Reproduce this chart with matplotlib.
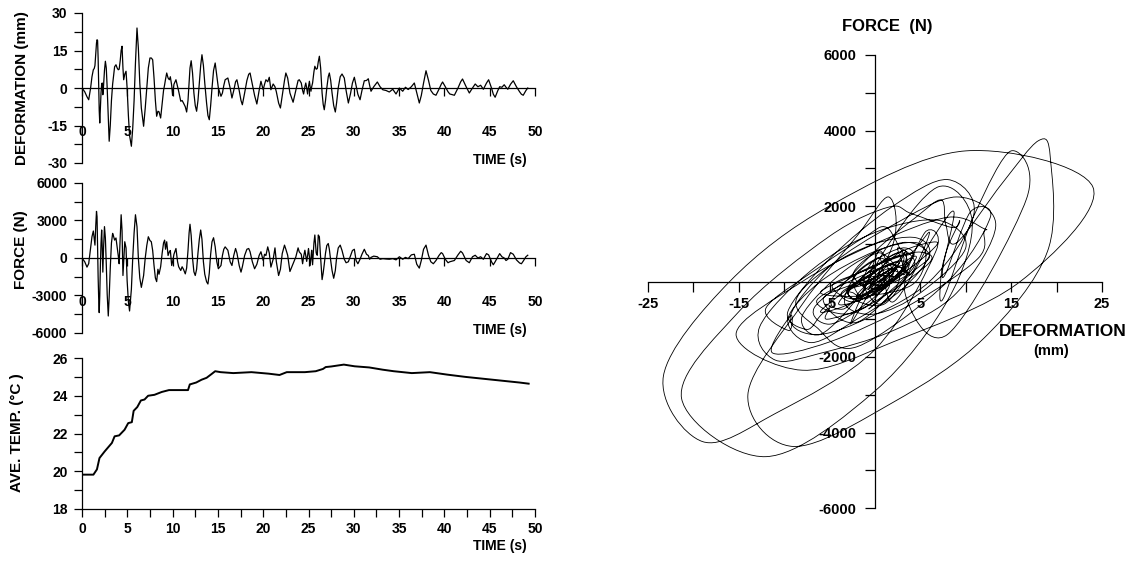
import numpy as np
import matplotlib
matplotlib.use("Agg")
import matplotlib.pyplot as plt
from matplotlib.path import Path
from matplotlib.patches import PathPatch
from matplotlib.ticker import MultipleLocator

plt.rcParams["font.family"] = ["Liberation Sans", "DejaVu Sans"]
plt.rcParams["font.weight"] = "bold"
plt.rcParams["axes.unicode_minus"] = False

# ---- shaking-table record: common time base for deformation and force ----
time_s = [
    0.00, 0.30, 0.55, 0.74, 0.95, 1.10, 1.25, 1.35, 1.43, 1.52,
    1.60, 1.66, 1.72, 1.78, 1.84, 1.90, 1.96, 2.03, 2.10, 2.17,
    2.23, 2.30, 2.38, 2.48, 2.58, 2.68, 2.78, 2.90, 3.00, 3.12,
    3.25, 3.38, 3.46, 3.60, 3.75, 3.88, 4.00, 4.10, 4.22, 4.32,
    4.42, 4.52, 4.60, 4.72, 4.86, 4.98, 5.12, 5.25, 5.45, 5.60,
    5.75, 5.90, 6.07, 6.22, 6.38, 6.55, 6.80, 6.98, 7.15, 7.32,
    7.50, 7.65, 7.80, 7.95, 8.10, 8.24, 8.38, 8.50, 8.68, 8.85,
    9.00, 9.12, 9.22, 9.35, 9.50, 9.64, 9.75, 9.90, 10.00, 10.15,
    10.37, 10.55, 10.67, 10.90, 11.05, 11.20, 11.40, 11.55, 11.70, 11.82,
    11.92, 12.05, 12.20, 12.35, 12.50, 12.65, 12.80, 12.95, 13.10, 13.24,
    13.40, 13.55, 13.75, 13.90, 14.05, 14.20, 14.35, 14.52, 14.70, 14.88,
    15.05, 15.34, 15.50, 15.65, 15.80, 16.10, 16.35, 16.55, 16.75, 16.95,
    17.10, 17.35, 17.55, 17.70, 17.95, 18.20, 18.40, 18.55, 18.80, 19.05,
    19.30, 19.55, 19.75, 20.00, 20.15, 20.30, 20.50, 20.67, 20.85, 21.10,
    21.30, 21.45, 21.70, 21.90, 22.10, 22.35, 22.50, 22.70, 22.95, 23.30,
    23.60, 23.85, 23.98, 24.20, 24.35, 24.46, 24.60, 24.70, 24.80, 24.90,
    25.00, 25.10, 25.18, 25.27, 25.35, 25.45, 25.60, 25.70, 25.85, 25.97,
    26.08, 26.20, 26.34, 26.50, 26.62, 26.74, 26.88, 27.02, 27.18, 27.30,
    27.45, 27.60, 27.78, 27.96, 28.10, 28.28, 28.50, 28.70, 28.95, 29.15,
    29.40, 29.65, 29.85, 30.06, 30.25, 30.45, 30.69, 30.90, 31.16, 31.40,
    31.60, 31.75, 31.90, 32.20, 32.60, 32.90, 33.20, 33.56, 33.92, 34.30,
    34.66, 35.03, 35.40, 35.70, 36.00, 36.35, 36.68, 36.95, 37.23, 37.45,
    37.70, 37.97, 38.25, 38.50, 38.78, 39.07, 39.40, 39.65, 39.80, 40.10,
    40.40, 40.60, 41.10, 41.50, 41.80, 42.00, 42.40, 42.75, 43.10, 43.40,
    43.70, 44.00, 44.30, 44.65, 44.88, 45.20, 45.40, 45.60, 45.90, 46.10,
    46.35, 46.60, 46.80, 47.00, 47.30, 47.60, 47.95, 48.30, 48.50, 48.70,
    49.00, 49.20,
]

deformation_mm = [
    0.0, -1.5, -3.5, -4.7, 0.0, 4.5, 7.3, 7.8, 9.0, 14.0,
    18.0, 19.3, 19.0, 12.0, 2.0, -9.0, -14.0, -8.0, -2.0, 1.5,
    2.0, -2.7, 1.0, 7.0, 10.7, 8.0, 0.0, -12.0, -21.3, -15.0,
    -5.0, 1.5, 4.0, 8.5, 9.3, 8.0, 7.3, 7.5, 11.0, 15.0,
    16.7, 8.0, 3.3, 5.5, 6.7, 0.0, -11.0, -19.0, -23.3, -16.0,
    -5.0, 10.0, 24.0, 16.0, 2.0, -8.0, -15.3, -8.0, 0.0, 8.0,
    12.0, 12.0, 11.3, 4.0, -5.0, -11.3, -9.3, -9.5, -12.0, -6.0,
    -1.0, 1.3, 3.5, 6.0, 4.0, 3.3, 4.5, 1.0, -3.0, 1.5,
    3.3, 0.5, -1.3, -5.3, -5.0, -6.0, -7.5, -9.6, -5.0, 2.0,
    8.0, 10.9, 6.0, -2.0, -7.0, -9.3, -5.0, 2.0, 9.0, 13.3,
    9.0, 2.0, -6.0, -11.0, -12.7, -7.0, 0.0, 7.0, 10.0, 5.0,
    0.0, -3.3, -2.0, 1.0, 3.3, 4.0, 0.0, -4.0, -1.0, 2.5,
    3.3, -1.0, -5.0, -6.7, -2.0, 3.0, 5.5, 6.0, 1.5, -3.0,
    -6.4, -1.0, 2.7, -0.7, 1.5, 3.3, 2.5, 4.3, -0.7, 1.6,
    0.5, -1.5, -6.0, -8.0, -3.0, 3.0, 6.0, 4.0, -2.0, -5.7,
    -1.0, 3.0, 3.3, 2.0, -1.0, -2.4, 0.5, 2.0, 0.0, -2.4,
    0.5, 2.7, 0.5, -1.3, 0.5, 2.0, 6.5, 8.7, 7.5, 7.8,
    10.5, 12.7, 8.0, -2.0, -6.5, -8.7, -5.0, 0.0, 4.5, 6.0,
    3.0, -2.0, -7.0, -9.6, -6.0, 0.0, 4.5, 5.6, 4.0, -1.0,
    -6.0, -2.0, 2.0, 4.3, 1.0, -2.5, -4.7, -1.0, 2.9, 3.0,
    3.7, 1.0, -1.3, 0.5, 2.4, 0.5, -0.7, -1.0, -1.6, -0.5,
    -2.4, 0.0, -1.3, 0.3, -0.6, 0.5, 2.0, -2.0, -6.0, -3.0,
    2.0, 6.9, 3.0, -1.0, -2.4, -2.9, -0.5, 1.5, 2.4, 0.5,
    -1.5, -2.4, -2.9, 0.0, 2.5, 3.6, 0.5, -2.0, 0.0, 1.6,
    0.5, 1.1, -0.5, 2.0, 3.3, 0.0, -2.5, -3.7, -1.0, 0.5,
    0.3, 1.3, 0.3, -0.5, 1.5, 2.9, 0.5, -1.5, -2.5, -2.9,
    -1.0, 0.0,
]

force_n = [
    0, -300, -730, -450, 800, 1700, 2160, 1500, 1030, 2600,
    3730, 3300, 800, -1500, -3200, -4370, -3000, -600, 1200, 2240,
    1000, -1130, 800, 2510, 1600, -500, -2900, -4640, -3100, -800,
    1200, 1970, 1800, 1430, 1600, 900, 200, -460, 1800, 3460,
    2200, -1400, -300, 1300, 800, -1800, -3500, -4240, -2500, 0,
    2000, 3460, 2500, 0, -1600, -2350, -1400, 0, 1000, 1700,
    1400, 1300, 600, -600, -1600, -1890, -900, -1300, -700, 400,
    1200, 1430, 700, 1300, 200, 500, 600, -600, -300, 300,
    760, -300, -700, -1000, -700, -900, -1270, -800, 600, 2000,
    2700, 1800, 0, -1100, -1400, -900, 400, 1500, 2240, 1500,
    -300, -1300, -1900, -2080, -1200, 300, 1300, 1620, 900, -300,
    -860, -600, 200, 700, 890, 620, -300, -600, 200, 760,
    400, -600, -1130, -700, 200, 700, 760, 500, -300, -860,
    -500, 200, 500, -200, 300, 200, 890, 400, -730, -100,
    810, -300, -1400, -900, 350, 1030, 700, 220, -1080, -460,
    80, 810, 490, 300, -460, 100, 620, 200, -270, 200,
    760, 100, -600, 0, 620, -540, 1200, 1840, 400, 220,
    1840, 1700, 0, -1730, -1200, -500, 400, 1000, 1160, 700,
    -200, -1000, -1620, -1000, 0, 800, 1030, 600, -100, -380,
    -300, 200, 600, 700, -200, -460, -100, 300, 700, 300,
    200, -100, 50, 150, 100, -100, -50, -80, -100, -50,
    -150, 100, -100, 50, -50, 250, 300, -500, -810, -200,
    700, 1030, 200, -300, -460, -200, 200, 430, 350, -100,
    -380, -300, -200, 250, 540, 400, -200, -380, 100, 220,
    0, 100, -100, 350, 250, -300, -540, -300, 100, 350,
    100, 0, -200, -100, 430, 300, -150, -400, -460, -250,
    100, 220,
]

# ---- average damper temperature ----
temp_time_s = [
    0.0, 1.26, 1.65, 1.93, 2.5, 3.3, 3.6, 4.1, 4.7, 5.1,
    5.5, 5.7, 6.1, 6.5, 6.9, 7.3, 8.0, 8.8, 9.6, 11.2,
    11.7, 11.9, 12.6, 13.2, 13.75, 14.3, 14.7, 15.3, 16.7, 18.7,
    20.6, 21.8, 22.6, 24.6, 25.8, 26.6, 26.9, 27.5, 28.9, 30.1,
    31.7, 33.2, 34.4, 36.4, 38.4, 40.3, 42.3, 44.3, 46.3, 48.3,
    49.3,
]
temp_c = [
    19.82, 19.82, 20.1, 20.7, 21.05, 21.5, 21.85, 21.9, 22.2, 22.55,
    22.6, 23.2, 23.4, 23.75, 23.8, 24.0, 24.05, 24.2, 24.3, 24.3,
    24.3, 24.6, 24.7, 24.85, 24.95, 25.15, 25.3, 25.25, 25.2, 25.25,
    25.17, 25.1, 25.25, 25.25, 25.3, 25.42, 25.52, 25.55, 25.65, 25.56,
    25.5, 25.38, 25.3, 25.2, 25.25, 25.12, 25.0, 24.9, 24.8, 24.7,
    24.64,
]

# ---- tick values and labels ----
time_ticks = [0, 5, 10, 15, 20, 25, 30, 35, 40, 45, 50]
def_ticks = [-30, -15, 0, 15, 30]
force_ticks = [-6000, -3000, 0, 3000, 6000]
temp_ticks = [18, 20, 22, 24, 26]
hys_def_ticks = [-25, -20, -15, -10, -5, 0, 5, 10, 15, 20, 25]
hys_def_labels = ["-25", "", "-15", "", "-5", "", "5", "", "15", "", "25"]
hys_force_ticks = [-6000, -5000, -4000, -3000, -2000, -1000, 0,
                   1000, 2000, 3000, 4000, 5000, 6000]
hys_force_labels = ["-6000", "", "-4000", "", "-2000", "", "",
                    "", "2000", "", "4000", "", "6000"]

W, H = 1135, 563
fig = plt.figure(figsize=(W / 100, H / 100), dpi=100)


def px_box(x0, y_top, x1, y_bot):
    return [x0 / W, 1 - y_bot / H, (x1 - x0) / W, (y_bot - y_top) / H]


def ftext(x, y, s, **kw):
    fig.text(x / W, 1 - y / H, s, ha="center", va="center",
             fontweight="bold", **kw)


def style_time_axis(ax, ylim, yticks, minor, zero_axis):
    ax.set_xlim(0, 50)
    ax.set_ylim(*ylim)
    for s in ("top", "right"):
        ax.spines[s].set_visible(False)
    for s in ("left", "bottom"):
        ax.spines[s].set_linewidth(0.9)
    ax.set_xticks(time_ticks)
    ax.set_xticklabels([str(v) for v in time_ticks])
    ax.set_yticks(yticks)
    ax.set_yticklabels([str(v) for v in yticks])
    ax.yaxis.set_minor_locator(MultipleLocator(minor))
    ax.tick_params(axis="both", which="both", direction="out", length=6,
                   width=0.9, labelsize=10)
    if zero_axis:
        ax.spines["bottom"].set_position(("data", 0))
        ax.tick_params(axis="x", pad=20.5)
    else:
        ax.xaxis.set_minor_locator(MultipleLocator(2.5))
        ax.tick_params(axis="x", which="both", pad=3.5)
    ax.tick_params(axis="y", which="both", pad=4.5)
    ax.patch.set_visible(False)


def smooth_curve(ax, x, y, lw):
    """Draw a Catmull-Rom style smoothed line through the given points."""
    x = np.asarray(x, float)
    y = np.asarray(y, float)
    xp = np.concatenate(([x[0]], x, [x[-1]]))
    yp = np.concatenate(([y[0]], y, [y[-1]]))
    verts = [(x[0], y[0])]
    codes = [Path.MOVETO]
    for i in range(len(x) - 1):
        c1 = (x[i] + (xp[i + 2] - xp[i]) / 6, y[i] + (yp[i + 2] - yp[i]) / 6)
        c2 = (x[i + 1] - (xp[i + 3] - xp[i + 1]) / 6,
              y[i + 1] - (yp[i + 3] - yp[i + 1]) / 6)
        verts += [c1, c2, (x[i + 1], y[i + 1])]
        codes += [Path.CURVE4] * 3
    ax.add_patch(PathPatch(Path(verts, codes), facecolor="none",
                           edgecolor="black", lw=lw, transform=ax.transData))


# ---- deformation history ----
ax_def = fig.add_axes(px_box(82, 13, 535, 163))
ax_def.plot(time_s, deformation_mm, color="black", lw=0.9)
style_time_axis(ax_def, (-30, 30), def_ticks, 7.5, True)

# ---- force history ----
ax_frc = fig.add_axes(px_box(82, 183, 535, 333))
ax_frc.plot(time_s, force_n, color="black", lw=0.9)
style_time_axis(ax_frc, (-6000, 6000), force_ticks, 1500, True)

# ---- temperature history ----
ax_tmp = fig.add_axes(px_box(82, 358, 535, 509))
ax_tmp.plot(temp_time_s, temp_c, color="black", lw=1.4)
style_time_axis(ax_tmp, (18, 26), temp_ticks, 1, False)

ftext(22, 88, "DEFORMATION (mm)", rotation=90, fontsize=11)
ftext(21, 250, "FORCE (N)", rotation=90, fontsize=11)
ftext(17, 433, "AVE. TEMP. (\u00b0C )", rotation=90, fontsize=11)
for y in (160, 330, 546):
    ftext(500, y, "TIME (s)", fontsize=10)

# ---- force-deformation loops ----
ax_hys = fig.add_axes(px_box(648, 55, 1102, 508))
smooth_curve(ax_hys, deformation_mm, force_n, lw=0.6)
ax_hys.set_xlim(-25, 25)
ax_hys.set_ylim(-6000, 6000)
for s in ("top", "right"):
    ax_hys.spines[s].set_visible(False)
for s in ("left", "bottom"):
    ax_hys.spines[s].set_position(("data", 0))
    ax_hys.spines[s].set_linewidth(0.9)
ax_hys.set_xticks(hys_def_ticks)
ax_hys.set_xticklabels(hys_def_labels)
ax_hys.set_yticks(hys_force_ticks)
ax_hys.set_yticklabels(hys_force_labels)
ax_hys.tick_params(direction="out", length=7, width=0.9, labelsize=10.5)
ax_hys.tick_params(axis="x", pad=4)
ax_hys.tick_params(axis="y", pad=6.5)
ax_hys.patch.set_visible(False)

ftext(887, 27, "FORCE  (N)", fontsize=12)
ftext(1063, 331, "DEFORMATION", fontsize=12.5)
ftext(1051, 351, "(mm)", fontsize=10.5)

fig.savefig("out.png", dpi=100)
